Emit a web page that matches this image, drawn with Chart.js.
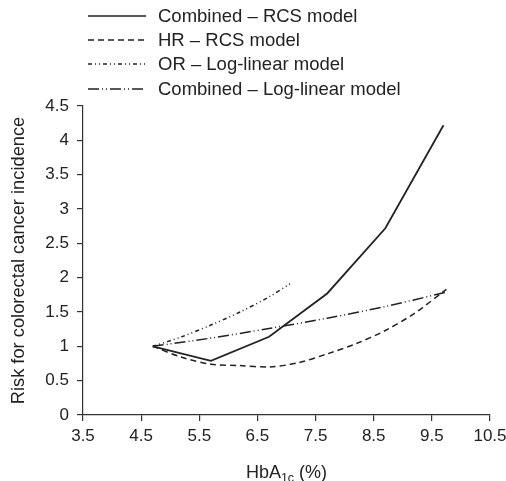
<!DOCTYPE html>
<html>
<head>
<meta charset="utf-8">
<script src="https://cdn.jsdelivr.net/npm/chart.js@4"></script>
<style>
    body { margin: 0; background: #fff; font-family: "Liberation Sans", Arial, sans-serif; }
    #wrap { position: relative; width: 506px; height: 481px; }
    #chart { position: absolute; left: 0; top: 0; }
    .leg { position: absolute; left: 88px; height: 24px; display: flex; align-items: center; font-size: 18.5px; color: #222; }
    .leg svg { margin-right: 12px; }
    #xTitle { position: absolute; left: 0; width: 573px; top: 462px; text-align: center; font-size: 18px; color: #222; }
    #xTitle sub { font-size: 12.5px; vertical-align: -4px; line-height: 0; }
</style>
</head>
<body>
<div id="wrap">
    <canvas id="chart" width="506" height="481"></canvas>
    <div id="legend"></div>
    <div id="xTitle">HbA<sub>1c</sub> (%)</div>
</div>
<script>
const seriesNames = ["Combined – RCS model", "HR – RCS model", "OR – Log-linear model", "Combined – Log-linear model"];
const dashes = [[], [6, 4], [4, 3, 1, 3, 1, 3], [11, 3, 1, 3, 1, 3]];

const combinedRcsX = [4.7, 5.7, 6.7, 7.7, 8.7, 9.7];
const combinedRcsY = [1.0, 0.79, 1.14, 1.77, 2.72, 4.22];

const hrRcsX = [4.7, 5.2, 5.7, 6.2, 6.7, 7.2, 7.7, 8.2, 8.7, 9.2, 9.75];
const hrRcsY = [1.0, 0.84, 0.74, 0.72, 0.70, 0.76, 0.89, 1.04, 1.23, 1.48, 1.83];

const orLogX = [4.7, 5.2, 5.7, 6.2, 6.7, 7.06];
const orLogY = [1.0, 1.14, 1.31, 1.50, 1.72, 1.91];

const combinedLogX = [4.7, 5.7, 6.7, 7.7, 8.7, 9.75];
const combinedLogY = [1.0, 1.12, 1.26, 1.41, 1.58, 1.79];

const xTicks = [3.5, 4.5, 5.5, 6.5, 7.5, 8.5, 9.5, 10.5];

function toPoints(xs, ys) {
    return xs.map((x, i) => ({ x, y: ys[i] }));
}

const allSeries = [
    toPoints(combinedRcsX, combinedRcsY),
    toPoints(hrRcsX, hrRcsY),
    toPoints(orLogX, orLogY),
    toPoints(combinedLogX, combinedLogY),
];

// legend in html, line samples as svg
const legend = document.getElementById("legend");
const rowTops = [4, 28, 52, 77];
seriesNames.forEach((name, i) => {
    const row = document.createElement("div");
    row.className = "leg";
    row.style.top = rowTops[i] + "px";
    const dash = dashes[i].length ? `stroke-dasharray="${dashes[i].join(" ")}"` : "";
    row.innerHTML = `<svg width="58" height="6"><line x1="0" y1="3" x2="58" y2="3" stroke="#222" stroke-width="1.4" ${dash}/></svg><span>${name}</span>`;
    legend.appendChild(row);
});

const axisColor = "#333";
const tickFont = { family: "'Liberation Sans', Arial, sans-serif", size: 17 };

new Chart(document.getElementById("chart"), {
    type: "scatter",
    data: {
        datasets: allSeries.map((pts, i) => ({
            label: seriesNames[i],
            data: pts,
            showLine: true,
            borderColor: "#222",
            borderWidth: i === 0 ? 1.8 : 1.5,
            borderDash: dashes[i],
            pointRadius: 0,
            tension: i === 0 ? 0 : 0.3,
            fill: false,
        })),
    },
    options: {
        responsive: false,
        animation: false,
        layout: { padding: { top: 106, right: 16, left: 0, bottom: 0 } },
        plugins: { legend: { display: false }, tooltip: { enabled: false } },
        scales: {
            x: {
                type: "linear",
                min: 3.5,
                max: 10.5,
                afterBuildTicks: (scale) => { scale.ticks = xTicks.map((v) => ({ value: v })); },
                afterFit: (scale) => { scale.height = 66; scale.paddingRight = 0; scale.paddingLeft = 0; },
                grid: { drawOnChartArea: false, drawTicks: true, tickLength: 6, color: axisColor, lineWidth: 1.2 },
                border: { color: axisColor, width: 1.2 },
                ticks: { color: "#222", font: tickFont, padding: 5, maxRotation: 0, autoSkip: false, callback: (v) => v.toFixed(1) },
            },
            y: {
                min: 0,
                max: 4.5,
                ticks: { stepSize: 0.5, color: "#222", font: tickFont, padding: 8, callback: (v) => String(v) },
                afterFit: (scale) => { scale.width = 83; },
                grid: { drawOnChartArea: false, drawTicks: true, tickLength: 6, color: axisColor, lineWidth: 1.2 },
                border: { color: axisColor, width: 1.2 },
                title: { display: true, text: "Risk for colorectal cancer incidence", color: "#222", font: { family: "'Liberation Sans', Arial, sans-serif", size: 18.3 }, padding: { top: 8, bottom: 0 } },
            },
        },
    },
});
</script>
</body>
</html>
